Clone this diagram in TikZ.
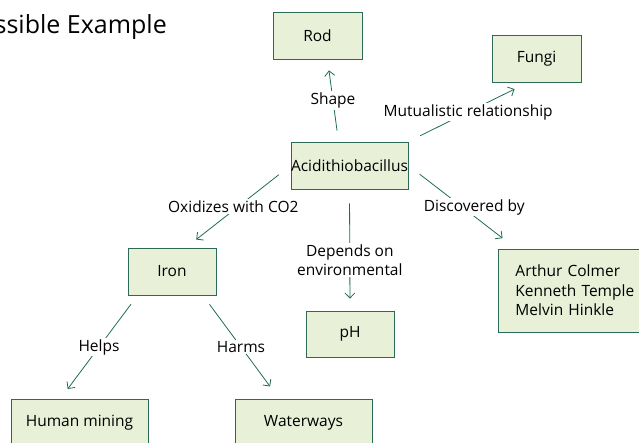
\documentclass[tikz,border=0pt]{standalone}
\usepackage{fontspec}
\setmainfont{Open Sans}
\usetikzlibrary{arrows.meta}

\definecolor{boxline}{HTML}{2D6A55}
\definecolor{boxfill}{HTML}{E8F0D8}
\definecolor{edgeline}{HTML}{1F6B58}

\tikzset{
  concept/.style={draw=boxline,fill=boxfill,line width=0.9pt,minimum height=47pt,
    minimum width=89pt,inner sep=0pt,font=\fontsize{15.5}{19.5}\selectfont},
  link/.style={draw=edgeline,line width=0.8pt,-{Straight Barb[length=5pt,width=10pt]}},
  linktext/.style={fill=white,inner sep=1.5pt,font=\fontsize{15.5}{19}\selectfont,
    align=center,text=black}
}

\begin{document}
\begin{tikzpicture}[x=1pt,y=-1pt]
    \useasboundingbox (0,0) rectangle (639,442);

    \node[anchor=base east,inner sep=0pt,font=\fontsize{25}{28}\selectfont] (title) at (167,33) {Possible Example};

    \node[concept]                  (acid)   at (349.5,165.5) {Acidithiobacillus};
    \node[concept]                  (rod)    at (317.5,35.5)  {Rod};
    \node[concept]                  (fungi)  at (536.5,58.5)  {Fungi};
    \node[concept,minimum width=88pt] (iron) at (172,271.5)   {Iron};
    \node[concept,minimum width=88pt,minimum height=46pt] (ph) at (350,334) {pH};
    \node[concept,minimum width=150pt,minimum height=83pt,align=left,anchor=west,
          text width=130pt,inner xsep=17pt] (names) at (498,290.5)
          {Arthur Colmer\\Kenneth Temple\\Melvin Hinkle};
    \node[concept,minimum width=137pt] (mining) at (79.5,422.5)  {Human mining};
    \node[concept,minimum width=137pt] (water)  at (303.5,422.5) {Waterways};

    \draw[link,shorten <=11pt,shorten >=11pt] ([xshift=-11pt]acid.north) --
        node[linktext] {Shape} ([xshift=10pt]rod.south);
    \draw[link,shorten <=13pt,shorten >=15pt] (acid.north east) --
        node[linktext] {Mutualistic relationship} ([xshift=-8.5pt]fungi.south);
    \draw[link,shorten <=15pt,shorten >=13pt] (acid.west) --
        node[linktext,xshift=-5pt] {Oxidizes with CO2} ([xshift=14pt]iron.north);
    \draw[link,shorten <=14pt,shorten >=12pt] (acid.south) --
        node[linktext,pos=0.58] {Depends on\\environmental} (ph.north);
    \draw[link,shorten <=14pt,shorten >=17pt] (acid.east) --
        node[linktext,xshift=12pt] {Discovered by} ([xshift=18pt]names.north west);

    \draw[link,shorten <=11pt,shorten >=12pt] ([xshift=10pt]iron.south west) --
        node[linktext] {Helps} ([xshift=-19pt]mining.north);
    \draw[link,shorten <=11pt,shorten >=15pt] ([xshift=-13.5pt]iron.south east) --
        node[linktext] {Harms} ([xshift=-24.5pt]water.north);

  \end{tikzpicture}
\end{document}
